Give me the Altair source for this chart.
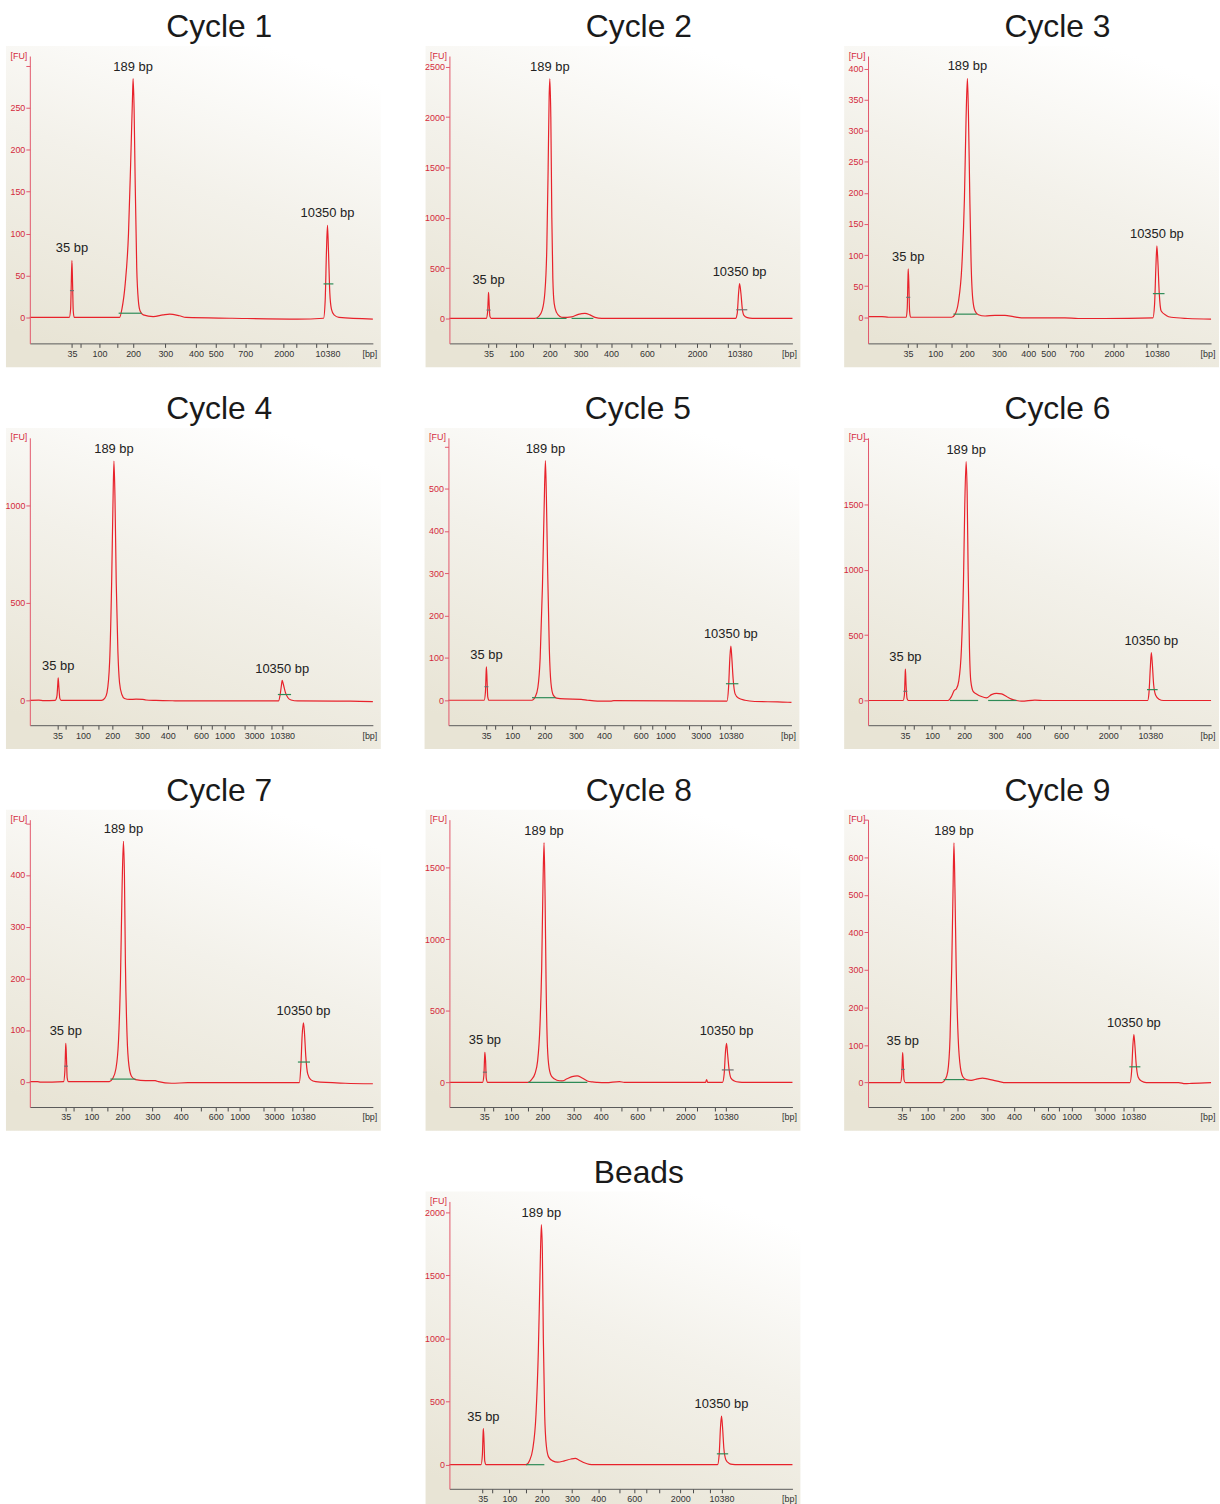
import altair as alt
import pandas as pd

# Plot-area size of every panel (pixels)
W, H = 345, 289

PEAK_LABELS = ["35 bp", "189 bp", "10350 bp"]

# ---------------- data ----------------
# trace: (migration, FU); peaks: (migration, FU) apex of 35 / 189 / 10350 bp
# marks: (from, to, FU, colour) peak-integration markers
# xticks: (migration, bp label) ; x_dom / y_dom: axis ranges ; y_ticks: FU ticks

cycle1_trace = [(85,0),(205,0),(209,10),(211,40),(213,68),(215,40),(217,8),(220,0),
    (358,0),(365,10),(375,40),(385,100),(392,190),(397,260),(399,285),(402,250),(405,170),
    (410,60),(415,20),(420,8),(430,3),(460,1),(490,3),(510,4),(540,2),(560,0),(700,-1),
    (900,-2),(978,-1),(983,20),(987,80),(990,110),(993,80),(997,30),(1002,10),(1010,3),
    (1025,0),(1128,-2)]
cycle1_peaks = [(213,68),(399,285),(990,110)]
cycle1_marks = [(207,219,32,"#707070"),(355,425,5,"#2e8b57"),(978,1008,40,"#2e8b57")]
cycle1_xticks = [(213,"35"),(240,""),(297,"100"),(350,""),(399,"200"),(497,"300"),(590,"400"),
    (650,"500"),(705,""),(740,"700"),(786,""),(857,"2000"),(896,""),(955,""),(990,"10380")]
cycle1_x_dom = [85, 1128]
cycle1_y_dom = [-31, 312]
cycle1_y_ticks = [0, 50, 100, 150, 200, 250, 300]
cycle1_y_hide = 260

cycle2_trace = [(105,0),(215,0),(219,60),(221,200),(222,258),(224,120),(226,20),(230,0),
    (360,0),(372,20),(382,80),(390,250),(396,700),(400,1500),(403,2200),(405,2380),(408,2000),
    (411,1000),(414,400),(418,150),(425,60),(435,20),(445,10),(470,15),(490,40),(510,50),
    (525,35),(540,10),(560,0),(960,0),(965,50),(969,250),(972,345),(976,250),(980,100),
    (985,30),(995,8),(1010,0),(1130,0)]
cycle2_peaks = [(222,258),(405,2380),(972,345)]
cycle2_marks = [(216,228,83,"#707070"),(365,455,0,"#2e8b57"),(470,535,0,"#2e8b57"),(962,995,86,"#707070")]
cycle2_xticks = [(222,"35"),(245,""),(305,"100"),(355,""),(405,"200"),(450,""),(497,"300"),
    (545,""),(588,"400"),(650,""),(695,"600"),(735,""),(780,""),(845,"2000"),(882,""),(938,""),
    (972,"10380")]
cycle2_x_dom = [105, 1130]
cycle2_y_dom = [-248, 2606]
cycle2_y_ticks = [0, 500, 1000, 1500, 2000, 2500]
cycle2_y_hide = 9999

cycle3_trace = [(88,1),(130,1),(150,0),(203,0),(206,15),(208,60),(209,78),(211,50),(213,10),
    (216,0),(340,0),(350,5),(360,25),(370,80),(378,190),(383,320),(387,384),(390,330),(394,200),
    (398,90),(403,30),(410,10),(420,4),(440,2),(470,3),(500,3),(525,1),(550,-1),(680,-1),
    (720,-2),(800,-2),(945,-1),(950,20),(954,80),(957,115),(960,90),(964,40),(970,10),(985,3),
    (1000,0),(1050,-2),(1120,-3)]
cycle3_peaks = [(209,78),(387,384),(957,115)]
cycle3_marks = [(203,215,32,"#707070"),(345,415,5,"#2e8b57"),(945,980,38,"#2e8b57")]
cycle3_xticks = [(208,"35"),(235,""),(290,"100"),(340,""),(385,"200"),(482,"300"),(570,"400"),
    (630,"500"),(682,""),(715,"700"),(760,""),(828,"2000"),(867,""),(925,""),(957,"10380")]
cycle3_x_dom = [88, 1120]
cycle3_y_dom = [-42, 420]
cycle3_y_ticks = [0, 50, 100, 150, 200, 250, 300, 350, 400]
cycle3_y_hide = 9999

cycle4_trace = [(88,0),(115,1),(130,-1),(165,0),(170,20),(173,90),(174,115),(176,70),(179,10),
    (183,0),(305,0),(315,10),(322,40),(330,200),(336,600),(340,1000),(343,1225),(346,1050),
    (350,600),(355,250),(360,90),(367,30),(375,10),(390,5),(410,6),(430,5),(440,2),(470,0),
    (520,-2),(560,-3),(842,-3),(847,30),(851,80),(853,102),(857,80),(863,40),(870,15),(880,2),
    (900,-3),(1060,-4),(1128,-6)]
cycle4_peaks = [(174,115),(343,1225),(853,102)]
cycle4_marks = [(840,880,30,"#2e8b57")]
cycle4_xticks = [(172,"35"),(198,""),(249,"100"),(295,""),(338,"200"),(428,"300"),(506,"400"),
    (565,""),(607,"600"),(640,""),(678,"1000"),(740,""),(768,"3000"),(820,""),(853,"10380")]
cycle4_x_dom = [88, 1128]
cycle4_y_dom = [-127, 1344]
cycle4_y_ticks = [0, 500, 1000]
cycle4_y_hide = 9999

cycle5_trace = [(95,0),(204,0),(208,20),(210,65),(211,79),(213,45),(215,8),(219,0),(350,0),
    (360,8),(368,30),(375,100),(382,270),(387,450),(391,566),(394,480),(398,300),(403,120),
    (408,40),(415,12),(425,5),(450,3),(500,2),(520,0),(550,-2),(590,-2),(600,-1),(945,-2),
    (950,30),(954,100),(957,128),(960,100),(964,50),(970,15),(980,5),(1000,0),(1030,-3),
    (1100,-4),(1142,-5)]
cycle5_peaks = [(211,79),(391,566),(957,128)]
cycle5_marks = [(205,217,32,"#707070"),(350,422,6,"#2e8b57"),(942,980,39,"#2e8b57")]
cycle5_xticks = [(210,"35"),(237,""),(290,"100"),(343,""),(388,"200"),(484,"300"),(570,"400"),
    (630,""),(682,"600"),(716,""),(757,"1000"),(830,""),(865,"3000"),(922,""),(957,"10380")]
cycle5_x_dom = [95, 1142]
cycle5_y_dom = [-59, 620]
cycle5_y_ticks = [0, 100, 200, 300, 400, 500, 600]
cycle5_y_hide = 550

cycle6_trace = [(100,0),(205,0),(209,40),(211,180),(212,240),(214,120),(217,15),(221,0),
    (340,0),(350,30),(358,75),(365,90),(372,150),(380,400),(386,900),(390,1500),(394,1827),
    (397,1600),(400,1000),(404,400),(408,150),(415,70),(425,50),(440,30),(455,20),(470,45),
    (485,55),(500,50),(515,30),(530,10),(545,0),(560,-5),(600,3),(630,0),(938,0),(942,60),
    (946,250),(949,367),(952,280),(956,120),(962,40),(972,10),(985,0),(1128,0)]
cycle6_peaks = [(212,240),(394,1827),(949,367)]
cycle6_marks = [(206,218,70,"#707070"),(345,430,0,"#2e8b57"),(460,545,0,"#2e8b57"),(936,968,83,"#2e8b57")]
cycle6_xticks = [(211,"35"),(238,""),(292,"100"),(343,""),(388,"200"),(482,"300"),(566,"400"),
    (628,""),(678,"600"),(718,""),(757,""),(820,"2000"),(858,""),(912,""),(946,"10380")]
cycle6_x_dom = [100, 1128]
cycle6_y_dom = [-189, 2009]
cycle6_y_ticks = [0, 500, 1000, 1500, 2000]
cycle6_y_hide = 1900

cycle7_trace = [(87,0),(110,0),(120,-1),(190,0),(194,20),(196,60),(197,74),(199,45),(201,8),
    (205,0),(330,0),(340,6),(350,25),(358,80),(364,200),(369,380),(373,465),(376,400),(379,230),
    (384,90),(390,30),(398,10),(410,4),(440,2),(470,2),(480,0),(520,-3),(570,-2),(910,-2),
    (915,30),(919,90),(923,114),(926,95),(930,50),(936,15),(945,4),(960,0),(1050,-3),(1135,-4)]
cycle7_peaks = [(197,74),(373,465),(923,114)]
cycle7_marks = [(192,203,30,"#707070"),(333,410,5,"#2e8b57"),(906,943,38,"#2e8b57")]
cycle7_xticks = [(197,"35"),(222,""),(275,"100"),(325,""),(370,"200"),(462,"300"),(548,"400"),
    (608,""),(655,"600"),(690,""),(728,"1000"),(800,""),(833,"3000"),(890,""),(921,"10380")]
cycle7_x_dom = [87, 1135]
cycle7_y_dom = [-49, 507]
cycle7_y_ticks = [0, 100, 200, 300, 400, 500]
cycle7_y_hide = 450

cycle8_trace = [(97,0),(195,0),(199,50),(201,170),(202,210),(204,150),(206,30),(210,0),(330,0),
    (340,20),(350,60),(358,150),(365,400),(370,800),(374,1400),(377,1675),(380,1300),(383,700),
    (387,250),(392,100),(400,40),(415,15),(430,10),(445,25),(460,40),(475,45),(490,30),(505,10),
    (520,3),(535,0),(560,-2),(600,5),(615,0),(855,0),(858,20),(861,0),(905,0),(910,60),(914,220),
    (917,272),(920,200),(924,100),(930,30),(940,10),(955,2),(970,0),(1112,0)]
cycle8_peaks = [(202,210),(377,1675),(917,272)]
cycle8_marks = [(196,208,71,"#707070"),(330,505,0,"#2e8b57"),(903,938,87,"#707070")]
cycle8_xticks = [(200,"35"),(225,""),(280,"100"),(330,""),(372,"200"),(465,"300"),(545,"400"),
    (607,""),(653,"600"),(690,""),(730,""),(795,"2000"),(830,""),(882,""),(915,"10380")]
cycle8_x_dom = [97, 1112]
cycle8_y_dom = [-172, 1835]
cycle8_y_ticks = [0, 500, 1000, 1500]
cycle8_y_hide = 9999

cycle9_trace = [(82,0),(182,0),(186,20),(188,65),(189,80),(191,45),(193,8),(197,0),(310,0),
    (320,8),(328,30),(335,120),(340,300),(344,500),(347,638),(350,520),(354,300),(360,120),
    (367,40),(375,15),(385,8),(400,6),(420,10),(435,12),(450,10),(470,6),(490,2),(505,0),
    (890,0),(895,30),(899,100),(902,128),(905,100),(909,50),(915,15),(925,4),(940,0),(1040,0),
    (1060,-3),(1080,-2),(1140,0)]
cycle9_peaks = [(189,80),(347,638),(902,128)]
cycle9_marks = [(184,195,35,"#707070"),(315,380,8,"#2e8b57"),(888,922,42,"#2e8b57")]
cycle9_xticks = [(187,"35"),(212,""),(265,"100"),(315,""),(357,"200"),(450,"300"),(532,"400"),
    (593,""),(637,"600"),(670,""),(710,"1000"),(780,""),(813,"3000"),(870,""),(900,"10380")]
cycle9_x_dom = [82, 1140]
cycle9_y_dom = [-65, 700]
cycle9_y_ticks = [0, 100, 200, 300, 400, 500, 600, 700]
cycle9_y_hide = 650

beads_trace = [(115,0),(210,0),(214,80),(216,240),(217,285),(219,180),(221,30),(225,0),(345,0),
    (355,30),(365,120),(375,400),(382,900),(387,1500),(391,1900),(394,1700),(397,1000),(401,400),
    (406,150),(413,60),(425,30),(440,20),(460,30),(480,45),(493,50),(505,35),(520,15),(535,3),
    (550,0),(920,0),(925,80),(929,300),(932,384),(935,300),(939,130),(945,40),(955,10),(965,2),
    (980,0),(1145,0)]
beads_peaks = [(217,285),(391,1900),(932,384)]
beads_marks = [(345,400,0,"#2e8b57"),(918,952,86,"#2e8b57")]
beads_xticks = [(215,"35"),(243,""),(295,"100"),(345,""),(392,"200"),(483,"300"),(562,"400"),
    (625,""),(670,"600"),(706,""),(745,""),(808,"2000"),(845,""),(897,""),(932,"10380")]
beads_x_dom = [115, 1145]
beads_y_dom = [-191, 2084]
beads_y_ticks = [0, 500, 1000, 1500, 2000]
beads_y_hide = 9999

# ---------------- styling ----------------
TRACE_RED = "#e8222b"
AXIS_RED = "#e2576b"
LABEL_RED = "#d42a3c"
NARROW = "Liberation Sans Narrow, Liberation Sans, Arial, sans-serif"

BG_FILL = alt.Gradient(
    gradient="linear",
    stops=[alt.GradientStop(color="#ffffff", offset=0),
           alt.GradientStop(color="#f3f1ea", offset=0.45),
           alt.GradientStop(color="#e8e4d5", offset=1)],
    x1=0.7, y1=0, x2=0.3, y2=1,
)

one_row = pd.DataFrame({"k": [0]})


def background(fill):
    return alt.Chart(one_row).mark_rect(color=fill).encode(
        x=alt.value(-24), x2=alt.value(W + 8), y=alt.value(-10), y2=alt.value(H + 24)
    )


def panel(title, trace, peaks, marks, xticks, x_dom, y_dom, y_ticks, y_hide):
    tr = pd.DataFrame(trace, columns=["t", "fu"])
    pk = pd.DataFrame({"t": [p[0] for p in peaks], "fu": [p[1] for p in peaks],
                       "label": PEAK_LABELS})
    mk = pd.DataFrame(marks, columns=["t", "t2", "fu", "c"])

    xs = alt.Scale(domain=x_dom, nice=False, zero=False)
    ys = alt.Scale(domain=y_dom, nice=False, zero=False)

    labelled = [(p, l) for p, l in xticks if l]
    x_label_expr = " : ".join(f"datum.value == {p} ? '{l}'" for p, l in labelled) + " : ''"

    x_axis = alt.Axis(
        values=[p for p, _ in xticks], labelExpr=x_label_expr, grid=False,
        domainColor="#5a5a5a", tickColor="#4a4a4a", tickSize=4, labelColor="#333333",
        labelFont=NARROW, labelFontSize=9, labelPadding=2, labelOverlap=False,
        labelFlush=False, zindex=1,
        title="[bp]", titleFont=NARROW, titleFontSize=9, titleFontWeight="normal",
        titleColor="#333333", titleAngle=0, titleAlign="right", titleBaseline="top",
        titleX=W + 4, titleY=6,
    )
    y_axis = alt.Axis(
        values=y_ticks, format="d", labelExpr=f"datum.value > {y_hide} ? '' : datum.label",
        grid=False,
        domainColor=AXIS_RED, tickColor=AXIS_RED, tickSize=4, labelColor=LABEL_RED,
        labelFont=NARROW, labelFontSize=9, labelPadding=1, labelOverlap=False,
        labelFlush=False, zindex=1,
        title="[FU]", titleFont=NARROW, titleFontSize=9, titleFontWeight="normal",
        titleColor=LABEL_RED, titleAngle=0, titleAlign="right", titleBaseline="middle",
        titleX=-3, titleY=-1,
    )

    X = alt.X("t:Q", scale=xs, axis=x_axis)
    Y = alt.Y("fu:Q", scale=ys, axis=y_axis)

    line = alt.Chart(tr).mark_line(color=TRACE_RED, strokeWidth=1.2, interpolate="monotone").encode(
        x=X, y=Y,
    )
    rules = alt.Chart(mk).mark_rule(strokeWidth=1.2).encode(
        x=X, x2="t2:Q", y=Y,
        color=alt.Color("c:N", scale=None, legend=None),
    )
    texts = alt.Chart(pk).mark_text(
        baseline="bottom", dy=-5, fontSize=13, font="Liberation Sans", color="#222222"
    ).encode(x=X, y=Y, text="label:N")

    return alt.layer(background(BG_FILL), line, rules, texts).properties(
        width=W, height=H,
        title=alt.TitleParams(
            text=title, fontSize=32, font="Liberation Sans", fontWeight="normal",
            color="#1a1a1a", anchor="middle", frame="group", dx=18, offset=2,
        ),
    )


p1 = panel("Cycle 1", cycle1_trace, cycle1_peaks, cycle1_marks, cycle1_xticks, cycle1_x_dom, cycle1_y_dom, cycle1_y_ticks, cycle1_y_hide)
p2 = panel("Cycle 2", cycle2_trace, cycle2_peaks, cycle2_marks, cycle2_xticks, cycle2_x_dom, cycle2_y_dom, cycle2_y_ticks, cycle2_y_hide)
p3 = panel("Cycle 3", cycle3_trace, cycle3_peaks, cycle3_marks, cycle3_xticks, cycle3_x_dom, cycle3_y_dom, cycle3_y_ticks, cycle3_y_hide)
p4 = panel("Cycle 4", cycle4_trace, cycle4_peaks, cycle4_marks, cycle4_xticks, cycle4_x_dom, cycle4_y_dom, cycle4_y_ticks, cycle4_y_hide)
p5 = panel("Cycle 5", cycle5_trace, cycle5_peaks, cycle5_marks, cycle5_xticks, cycle5_x_dom, cycle5_y_dom, cycle5_y_ticks, cycle5_y_hide)
p6 = panel("Cycle 6", cycle6_trace, cycle6_peaks, cycle6_marks, cycle6_xticks, cycle6_x_dom, cycle6_y_dom, cycle6_y_ticks, cycle6_y_hide)
p7 = panel("Cycle 7", cycle7_trace, cycle7_peaks, cycle7_marks, cycle7_xticks, cycle7_x_dom, cycle7_y_dom, cycle7_y_ticks, cycle7_y_hide)
p8 = panel("Cycle 8", cycle8_trace, cycle8_peaks, cycle8_marks, cycle8_xticks, cycle8_x_dom, cycle8_y_dom, cycle8_y_ticks, cycle8_y_hide)
p9 = panel("Cycle 9", cycle9_trace, cycle9_peaks, cycle9_marks, cycle9_xticks, cycle9_x_dom, cycle9_y_dom, cycle9_y_ticks, cycle9_y_hide)
pb = panel("Beads", beads_trace, beads_peaks, beads_marks, beads_xticks, beads_x_dom, beads_y_dom, beads_y_ticks, beads_y_hide)

blank = background("#ffffff").properties(width=W, height=H)

row1 = alt.hconcat(p1, p2, p3, spacing=42)
row2 = alt.hconcat(p4, p5, p6, spacing=42)
row3 = alt.hconcat(p7, p8, p9, spacing=42)
row4 = alt.hconcat(blank, pb, spacing=42)

chart = alt.vconcat(row1, row2, row3, row4, spacing=24).properties(
    padding={"left": 4, "top": 6, "right": 0, "bottom": 0}
).configure(background="#ffffff").configure_view(stroke="transparent")

chart.save("out.html", embed_options={"renderer": "svg", "actions": False})
